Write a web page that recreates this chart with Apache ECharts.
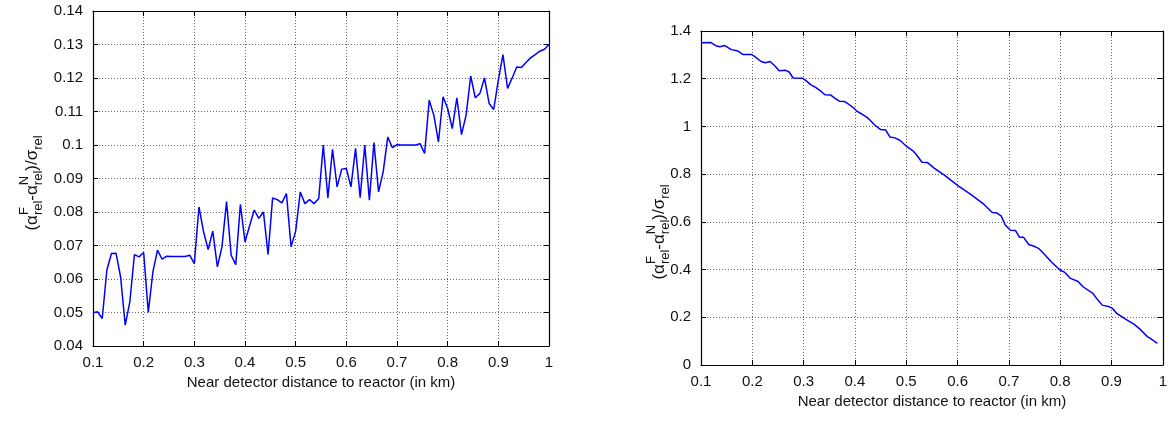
<!DOCTYPE html>
<html>
<head>
<meta charset="utf-8">
<script src="https://cdn.jsdelivr.net/npm/echarts@6/dist/echarts.min.js"></script>
<style>
html,body{margin:0;padding:0;background:#fff;}
#chart{width:1170px;height:421px;}
</style>
</head>
<body>
<div id="chart"></div>
<script>
// ---------- data ----------
const xTicks = [0.1, 0.2, 0.3, 0.4, 0.5, 0.6, 0.7, 0.8, 0.9, 1];
const leftYTicks = [0.04, 0.05, 0.06, 0.07, 0.08, 0.09, 0.1, 0.11, 0.12, 0.13, 0.14];
const rightYTicks = [0, 0.2, 0.4, 0.6, 0.8, 1, 1.2, 1.4];
const xTitle = 'Near detector distance to reactor (in km)';

const leftX = [
  0.1, 0.1091, 0.1182, 0.1273, 0.1364, 0.1455, 0.1545, 0.1636, 0.1727, 0.1818, 0.1909,
  0.2, 0.2091, 0.2182, 0.2273, 0.2364, 0.2455, 0.2545, 0.2636, 0.2727, 0.2818, 0.2909,
  0.3, 0.3091, 0.3182, 0.3273, 0.3364, 0.3455, 0.3545, 0.3636, 0.3727, 0.3818, 0.3909,
  0.4, 0.4091, 0.4182, 0.4273, 0.4364, 0.4455, 0.4545, 0.4636, 0.4727, 0.4818, 0.4909,
  0.5, 0.5091, 0.5182, 0.5273, 0.5364, 0.5455, 0.5545, 0.5636, 0.5727, 0.5818, 0.5909,
  0.6, 0.6091, 0.6182, 0.6273, 0.6364, 0.6455, 0.6545, 0.6636, 0.6727, 0.6818, 0.6909,
  0.7, 0.7091, 0.7182, 0.7273, 0.7364, 0.7455, 0.7545, 0.7636, 0.7727, 0.7818, 0.7909,
  0.8, 0.8091, 0.8182, 0.8273, 0.8364, 0.8455, 0.8545, 0.8636, 0.8727, 0.8818, 0.8909,
  0.9, 0.9091, 0.9182, 0.9273, 0.9364, 0.9455, 0.9545, 0.9636, 0.9727, 0.9818, 0.9909,
  1.0
];
const leftY = [
  0.0499, 0.0502, 0.0482, 0.0626, 0.0676, 0.0677, 0.0606, 0.0462, 0.0532, 0.0673, 0.0666,
  0.0679, 0.0500, 0.0621, 0.0686, 0.0659, 0.0668, 0.0667, 0.0667, 0.0667, 0.0667, 0.0671,
  0.0646, 0.0815, 0.0741, 0.0688, 0.0743, 0.0636, 0.0696, 0.0831, 0.0671, 0.0643, 0.0823,
  0.0711, 0.0759, 0.0806, 0.0781, 0.0800, 0.0673, 0.0842, 0.0837, 0.0827, 0.0855, 0.0696,
  0.0743, 0.0860, 0.0825, 0.0837, 0.0825, 0.0840, 0.1000, 0.0842, 0.0987, 0.0875, 0.0928,
  0.0930, 0.0875, 0.0990, 0.0843, 0.1000, 0.0835, 0.1007, 0.0860, 0.0920, 0.1024, 0.0992,
  0.1001, 0.1000, 0.1000, 0.1000, 0.1000, 0.1004, 0.0975, 0.1134, 0.1089, 0.1009, 0.1144,
  0.1109, 0.1049, 0.1141, 0.1031, 0.1089, 0.1206, 0.1141, 0.1154, 0.1200, 0.1124, 0.1106,
  0.1194, 0.1270, 0.1169, 0.1200, 0.1233, 0.1231, 0.1246, 0.1260, 0.1270, 0.1280, 0.1286,
  0.1300
];

const rightX = [
  0.1, 0.1187, 0.1303, 0.1367, 0.1463, 0.1592, 0.1721, 0.1817, 0.1978, 0.2042,
  0.2171, 0.2255, 0.2345, 0.2442, 0.2525, 0.2654, 0.2718, 0.2795, 0.2976, 0.3040,
  0.3136, 0.3233, 0.3330, 0.3413, 0.3523, 0.3606, 0.3696, 0.3799, 0.3876, 0.3973,
  0.4037, 0.4134, 0.4230, 0.4295, 0.4391, 0.4501, 0.4597, 0.4681, 0.4777, 0.4874,
  0.5003, 0.5131, 0.5215, 0.5305, 0.5408, 0.5550, 0.5743, 0.6013, 0.6257, 0.6515,
  0.6676, 0.6759, 0.6849, 0.6933, 0.7030, 0.7126, 0.7210, 0.7287, 0.7390, 0.7467,
  0.7577, 0.7673, 0.7834, 0.7995, 0.8091, 0.8201, 0.8349, 0.8445, 0.8638, 0.8735,
  0.8819, 0.8960, 0.9025, 0.9102, 0.9282, 0.9443, 0.9571, 0.9700, 0.9797, 0.9893
];
const rightY = [
  1.351, 1.352, 1.337, 1.334, 1.339, 1.322, 1.316, 1.302, 1.302, 1.294,
  1.272, 1.267, 1.272, 1.253, 1.233, 1.235, 1.228, 1.203, 1.202, 1.193,
  1.175, 1.164, 1.149, 1.133, 1.132, 1.119, 1.106, 1.104, 1.093, 1.078,
  1.064, 1.052, 1.039, 1.026, 1.005, 0.987, 0.985, 0.956, 0.952, 0.942,
  0.917, 0.898, 0.877, 0.850, 0.849, 0.824, 0.796, 0.751, 0.715, 0.673,
  0.639, 0.638, 0.625, 0.586, 0.565, 0.564, 0.535, 0.535, 0.504, 0.500,
  0.489, 0.468, 0.431, 0.398, 0.388, 0.363, 0.350, 0.328, 0.300, 0.272,
  0.251, 0.244, 0.236, 0.216, 0.191, 0.170, 0.147, 0.119, 0.105, 0.091
];

// ---------- chart ----------
const FONT = 'Liberation Sans';
const TXT = '#111';
const chart = echarts.init(document.getElementById('chart'), null, {renderer: 'canvas'});

function zip(a, b) { return a.map((v, i) => [v, b[i]]); }

const grids = [
  {left: 93, top: 11, width: 456, height: 335},
  {left: 701, top: 31, width: 466, height: 334}
];

function baseAxis(extra) {
  return Object.assign({
    type: 'value',
    axisLine: {show: true, onZero: false, lineStyle: {color: '#000', width: 1.2}},
    axisTick: {show: true, inside: true, length: 5, lineStyle: {color: '#000', width: 1}},
    splitLine: {show: false},
    axisLabel: {show: false}
  }, extra);
}

function makeAxes(gi, yTicks, xNameGap) {
  const xmin = xTicks[0], xmax = xTicks[xTicks.length - 1];
  const ymin = yTicks[0], ymax = yTicks[yTicks.length - 1];
  const yInt = +(yTicks[1] - yTicks[0]).toFixed(4);
  const xInt = +(xTicks[1] - xTicks[0]).toFixed(4);
  const xs = [
    baseAxis({
      gridIndex: gi, position: 'bottom', min: xmin, max: xmax, interval: xInt,
      name: xTitle, nameLocation: 'middle', nameGap: xNameGap,
      nameTextStyle: {fontFamily: FONT, fontSize: 15, color: TXT},
      axisLabel: {show: true, margin: 9, fontFamily: FONT, fontSize: 15, color: TXT,
        formatter: v => String(+v.toFixed(2))},
      splitLine: {show: true, lineStyle: {color: '#666', width: 1, type: [1, 2]}}
    }),
    baseAxis({gridIndex: gi, position: 'top', min: xmin, max: xmax, interval: xInt})
  ];
  const ys = [
    baseAxis({
      gridIndex: gi, position: 'left', min: ymin, max: ymax, interval: yInt,
      axisLabel: {show: true, margin: 10, fontFamily: FONT, fontSize: 15, color: TXT,
        formatter: v => String(+v.toFixed(3))},
      splitLine: {show: true, lineStyle: {color: '#666', width: 1, type: [1, 2]}}
    }),
    baseAxis({gridIndex: gi, position: 'right', min: ymin, max: ymax, interval: yInt})
  ];
  return {xs, ys};
}

const a0 = makeAxes(0, leftYTicks, 29);
const a1 = makeAxes(1, rightYTicks, 29);

// y-axis title built from text pieces (stacked super/subscripts)
const measureCtx = document.createElement('canvas').getContext('2d');
function tw(t, s) { measureCtx.font = s + 'px "' + FONT + '"'; return measureCtx.measureText(t).width; }
function yTitle(cx, cy) {
  const F = 17, S = 13;
  const pieces = [
    [{t: '(α', s: F, dy: 0}],
    [{t: 'F', s: S, dy: -8}, {t: 'rel', s: S, dy: 6}],
    [{t: '-α', s: F, dy: 0}],
    [{t: 'N', s: S, dy: -8}, {t: 'rel', s: S, dy: 6}],
    [{t: ')/σ', s: F, dy: 0}],
    [{t: 'rel', s: S, dy: 6}]
  ];
  const widths = pieces.map(p => Math.max.apply(null, p.map(q => tw(q.t, q.s))));
  const total = widths.reduce((a, b) => a + b, 0);
  let x = -total / 2;
  const children = [];
  pieces.forEach((p, i) => {
    p.forEach(q => {
      children.push({
        type: 'text', x: x, y: q.dy,
        style: {text: q.t, fontFamily: FONT, fontSize: q.s, fill: TXT,
          align: 'left', verticalAlign: 'middle'}
      });
    });
    x += widths[i];
  });
  return {type: 'group', x: cx, y: cy, rotation: Math.PI / 2, children: children};
}

const option = {
  animation: false,
  backgroundColor: '#fff',
  grid: grids,
  xAxis: [a0.xs[0], a0.xs[1], a1.xs[0], a1.xs[1]],
  yAxis: [a0.ys[0], a0.ys[1], a1.ys[0], a1.ys[1]],
  graphic: [yTitle(32, 183), yTitle(659, 232)],
  series: [
    {type: 'line', xAxisIndex: 0, yAxisIndex: 0, data: zip(leftX, leftY),
      showSymbol: false, lineStyle: {color: '#0000ff', width: 1.5}, silent: true},
    {type: 'line', xAxisIndex: 2, yAxisIndex: 2, data: zip(rightX, rightY),
      showSymbol: false, lineStyle: {color: '#0000ff', width: 1.5}, silent: true}
  ]
};
chart.setOption(option);
</script>
</body>
</html>
